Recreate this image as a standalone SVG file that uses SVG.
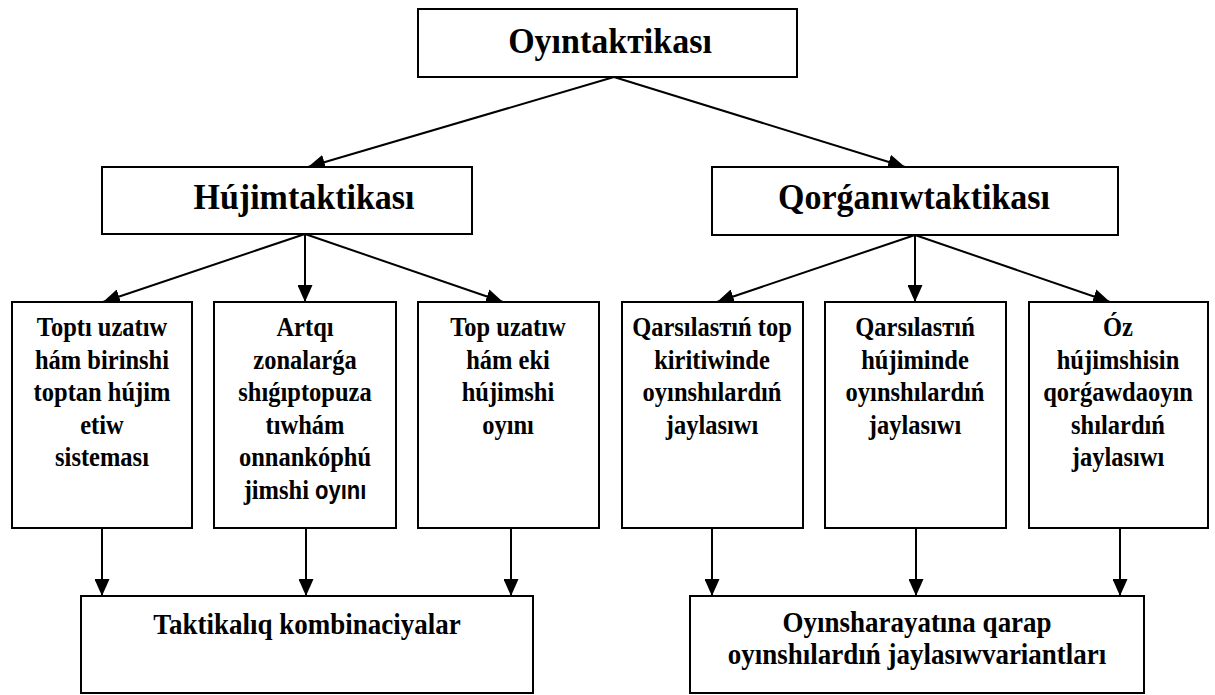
<svg xmlns="http://www.w3.org/2000/svg" width="1215" height="695" viewBox="0 0 1215 695">
<style>
.box{fill:#fff;stroke:#000;stroke-width:2}
.t{font-family:"Liberation Serif","Times New Roman",serif;font-weight:bold;fill:#000;text-anchor:middle}
.h{font-size:34px}
.s{font-size:24.5px}
.b{font-size:27px}
.c{stroke:#000;stroke-width:2;fill:none;marker-end:url(#ah)}
.sans{font-family:"Liberation Sans",Arial,sans-serif;font-size:22px}
</style>
<defs>
<marker id="ah" viewBox="0 0 17 15" refX="17" refY="7.5" markerWidth="17" markerHeight="15" markerUnits="userSpaceOnUse" orient="auto">
<path d="M0,0 L17,7.5 L0,15 Z" fill="#000"/>
</marker>
</defs>
<rect width="1215" height="695" fill="#fff"/>
<g id="connectors">
<line class="c" x1="614" y1="77" x2="308" y2="167"/>
<line class="c" x1="614" y1="77" x2="905" y2="167"/>
<line class="c" x1="305" y1="234" x2="103" y2="302"/>
<line class="c" x1="305" y1="234" x2="305" y2="302"/>
<line class="c" x1="305" y1="234" x2="503" y2="302"/>
<line class="c" x1="915" y1="235" x2="717" y2="302"/>
<line class="c" x1="915" y1="235" x2="915" y2="302"/>
<line class="c" x1="915" y1="235" x2="1110" y2="302"/>
<line class="c" x1="102" y1="528" x2="102" y2="596"/>
<line class="c" x1="306" y1="528" x2="306" y2="596"/>
<line class="c" x1="511" y1="528" x2="511" y2="596"/>
<line class="c" x1="712" y1="528" x2="712" y2="596"/>
<line class="c" x1="916" y1="528" x2="916" y2="596"/>
<line class="c" x1="1120" y1="528" x2="1120" y2="596"/>
</g>
<g id="n-root">
<rect class="box" x="418" y="9" width="379" height="68"/>
<text class="t h" transform="translate(610,53) scale(1,1.08)">Oyıntakтikası</text>
</g>
<g id="n-hujim">
<rect class="box" x="102" y="167" width="370" height="67"/>
<text class="t h" transform="translate(304,209) scale(1,1.08)">Hújimtaktikası</text>
</g>
<g id="n-qorganiw">
<rect class="box" x="712" y="167" width="406" height="68"/>
<text class="t h" transform="translate(914,209) scale(1,1.08)">Qorǵanıwtaktikası</text>
</g>
<g id="n-a1">
<rect class="box" x="12" y="302" width="180" height="226"/>
<text class="t s" transform="translate(102,336) scale(1,1.15)">Toptı uzatıw</text>
<text class="t s" transform="translate(102,368.5) scale(1,1.15)">hám birinshi</text>
<text class="t s" transform="translate(102,401) scale(1,1.15)">toptan hújim</text>
<text class="t s" transform="translate(102,433.5) scale(1,1.15)">etiw</text>
<text class="t s" transform="translate(102,466) scale(1,1.15)">sisteması</text>
</g>
<g id="n-a2">
<rect class="box" x="214" y="302" width="182" height="226"/>
<text class="t s" transform="translate(305,336) scale(1,1.15)">Artqı</text>
<text class="t s" transform="translate(305,368.5) scale(1,1.15)">zonalarǵa</text>
<text class="t s" transform="translate(305,401) scale(1,1.15)">shıǵıptopuza</text>
<text class="t s" transform="translate(305,433.5) scale(1,1.15)">tıwhám</text>
<text class="t s" transform="translate(305,466) scale(1,1.15)">onnankóphú</text>
<text class="t s" transform="translate(305,498.5) scale(1,1.15)">jimshi <tspan class="sans">oyını</tspan></text>
</g>
<g id="n-a3">
<rect class="box" x="418" y="302" width="181" height="226"/>
<text class="t s" transform="translate(508,336) scale(1,1.15)">Top uzatıw</text>
<text class="t s" transform="translate(508,368.5) scale(1,1.15)">hám eki</text>
<text class="t s" transform="translate(508,401) scale(1,1.15)">hújimshi</text>
<text class="t s" transform="translate(508,433.5) scale(1,1.15)">oyını</text>
</g>
<g id="n-d1">
<rect class="box" x="622" y="302" width="181" height="226"/>
<text class="t s" transform="translate(712,336) scale(1,1.15)">Qarsılasтıń top</text>
<text class="t s" transform="translate(712,368.5) scale(1,1.15)">kiritiwinde</text>
<text class="t s" transform="translate(712,401) scale(1,1.15)">oyınshılardıń</text>
<text class="t s" transform="translate(712,433.5) scale(1,1.15)">jaylasıwı</text>
</g>
<g id="n-d2">
<rect class="box" x="825" y="302" width="181" height="226"/>
<text class="t s" transform="translate(915,336) scale(1,1.15)">Qarsılasтıń</text>
<text class="t s" transform="translate(915,368.5) scale(1,1.15)">hújiminde</text>
<text class="t s" transform="translate(915,401) scale(1,1.15)">oyınshılardıń</text>
<text class="t s" transform="translate(915,433.5) scale(1,1.15)">jaylasıwı</text>
</g>
<g id="n-d3">
<rect class="box" x="1029" y="302" width="179" height="226"/>
<text class="t s" transform="translate(1118,336) scale(1,1.15)">Óz</text>
<text class="t s" transform="translate(1118,368.5) scale(1,1.15)">hújimshisin</text>
<text class="t s" transform="translate(1118,401) scale(1,1.15)">qorǵawdaoyın</text>
<text class="t s" transform="translate(1118,433.5) scale(1,1.15)">shılardıń</text>
<text class="t s" transform="translate(1118,466) scale(1,1.15)">jaylasıwı</text>
</g>
<g id="n-combo">
<rect class="box" x="81" y="596" width="452" height="97"/>
<text class="t b" transform="translate(307,634) scale(1,1.1)">Taktikalıq kombinaciyalar</text>
</g>
<g id="n-variants">
<rect class="box" x="690" y="596" width="454" height="97"/>
<text class="t b" transform="translate(917,632) scale(1,1.12)">Oyınsharayatına qarap</text>
<text class="t b" transform="translate(917,664) scale(1,1.12)">oyınshılardıń jaylasıwvariantları</text>
</g>
</svg>
